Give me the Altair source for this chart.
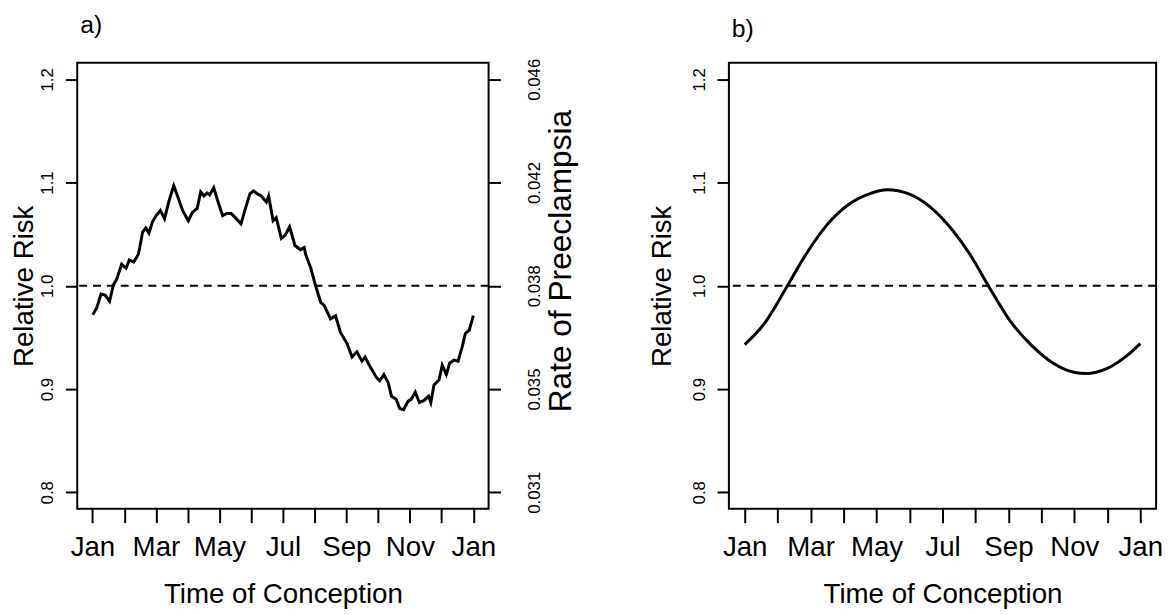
import altair as alt
import pandas as pd

FONT = "Liberation Sans"

# ---- data ----
a_month = [0.01, 0.14, 0.27, 0.40, 0.54, 0.66, 0.76, 0.92, 1.06, 1.16, 1.30, 1.44, 1.49, 1.58, 1.68,
           1.78, 1.89, 2.01, 2.14, 2.27, 2.41, 2.56, 2.68, 2.84, 3.02, 3.15, 3.30, 3.41, 3.51, 3.61,
           3.69, 3.82, 3.96, 4.10, 4.23, 4.37, 4.50, 4.68, 4.81, 4.96, 5.07, 5.20, 5.32, 5.48, 5.55,
           5.69, 5.79, 5.95, 6.07, 6.21, 6.38, 6.55, 6.67, 6.72, 6.88, 7.03, 7.19, 7.30, 7.50, 7.66,
           7.81, 8.02, 8.18, 8.33, 8.49, 8.59, 8.74, 8.95, 9.05, 9.18, 9.32, 9.42, 9.57, 9.68, 9.80,
           9.94, 10.04, 10.17, 10.30, 10.45, 10.59, 10.66, 10.76, 10.92, 11.02, 11.15, 11.25, 11.39,
           11.52, 11.65, 11.75, 11.87, 12.0]
a_rr = [0.972, 0.979, 0.992, 0.991, 0.985, 1.001, 1.006, 1.021, 1.017, 1.025, 1.023, 1.030, 1.037, 1.052, 1.056,
        1.051, 1.062, 1.068, 1.073, 1.065, 1.082, 1.097, 1.087, 1.073, 1.063, 1.071, 1.075, 1.091, 1.087, 1.090,
        1.088, 1.095, 1.081, 1.068, 1.070, 1.070, 1.066, 1.060, 1.074, 1.089, 1.092, 1.089, 1.087, 1.081, 1.087,
        1.063, 1.066, 1.046, 1.049, 1.057, 1.039, 1.035, 1.037, 1.030, 1.017, 1.000, 0.984, 0.981, 0.968, 0.971,
        0.955, 0.944, 0.931, 0.936, 0.927, 0.931, 0.922, 0.911, 0.908, 0.914, 0.906, 0.893, 0.890, 0.881, 0.880,
        0.888, 0.890, 0.897, 0.887, 0.889, 0.893, 0.887, 0.904, 0.909, 0.923, 0.914, 0.925, 0.928,
        0.927, 0.941, 0.954, 0.957, 0.971]

b_month = [0.0, 0.61, 1.26, 1.81, 2.47, 3.12, 3.78, 4.33, 4.98, 5.64, 6.30, 6.84, 7.39, 8.05,
           8.71, 9.36, 10.02, 10.35, 11.0, 11.66, 12.0]
b_rr = [0.943, 0.964, 0.998, 1.028, 1.058, 1.078, 1.089, 1.093, 1.089, 1.076, 1.054, 1.030, 1.000, 0.966,
        0.942, 0.925, 0.916, 0.915, 0.920, 0.934, 0.944]

tick_months = list(range(13))
month_labels = ["Jan", "Feb", "Mar", "Apr", "May", "Jun", "Jul", "Aug", "Sep", "Oct", "Nov", "Dec", "Jan"]
rr_ticks = [0.8, 0.9, 1.0, 1.1, 1.2]
rate_labels = ["0.031", "0.035", "0.038", "0.042", "0.046"]
ref_level = [1.0]

x_dom = [-0.48, 12.48]
y_dom = [0.784, 1.216]

month_js = "[" + ",".join("'" + m + "'" for m in month_labels) + "]"
rate_js = "[" + ",".join("'" + r + "'" for r in rate_labels) + "]"


def x_axis():
    return alt.Axis(values=tick_months,
                    labelExpr="(datum.value % 2 == 0) ? " + month_js + "[datum.value] : ''",
                    tickSize=14, tickWidth=2, tickColor="black", domain=False, grid=False,
                    labelFont=FONT, labelFontSize=28, labelColor="black", labelPadding=11,
                    labelFlush=False, labelOverlap=False,
                    title="Time of Conception", titleFont=FONT, titleFontSize=28,
                    titleFontWeight="normal", titleColor="black", titlePadding=20)


def y_axis_left(title_pad):
    return alt.Axis(values=rr_ticks, format=".1f", orient="left",
                    tickSize=12, tickWidth=2, tickColor="black", domain=False, grid=False,
                    labelAngle=270, labelAlign="center", labelBaseline="bottom",
                    labelFont=FONT, labelFontSize=17, labelColor="black", labelPadding=9,
                    title="Relative Risk", titleFont=FONT, titleFontSize=28,
                    titleFontWeight="normal", titleColor="black", titlePadding=title_pad)


def y_axis_right():
    return alt.Axis(values=rr_ticks, orient="right",
                    labelExpr=rate_js + "[round((datum.value - 0.8) * 10)]",
                    tickSize=12, tickWidth=2, tickColor="black", domain=False, grid=False,
                    labelAngle=270, labelAlign="center", labelBaseline="top",
                    labelFont=FONT, labelFontSize=17, labelColor="black", labelPadding=26,
                    title="Rate of Preeclampsia", titleFont=FONT, titleFontSize=32,
                    titleAngle=270, titleBaseline="top", titleAlign="center", titleY=200,
                    titleFontWeight="normal", titleColor="black", titlePadding=4)


def panel(month, rr, label, right_axis, width, height, interp, title_pad):
    df = pd.DataFrame({"month": month, "rr": rr})
    ref = pd.DataFrame({"level": ref_level})
    yscale = alt.Scale(domain=y_dom, nice=False, zero=False)
    line = alt.Chart(df).mark_line(color="black", strokeWidth=3, interpolate=interp).encode(
        x=alt.X("month:Q", scale=alt.Scale(domain=x_dom, nice=False, zero=False), axis=x_axis()),
        y=alt.Y("rr:Q", scale=yscale, axis=y_axis_left(title_pad)),
    )
    rule = alt.Chart(ref).mark_rule(color="black", strokeWidth=2, strokeDash=[8, 6]).encode(
        y=alt.Y("level:Q", scale=yscale,
                axis=y_axis_right() if right_axis else y_axis_left(title_pad)),
    )
    layer = alt.layer(line, rule)
    if right_axis:
        layer = layer.resolve_scale(y="independent")
    return layer.properties(
        width=width, height=height,
        title=alt.TitleParams(label, anchor="start", frame="group", font=FONT, fontSize=25,
                              fontWeight="normal", color="black", offset=21, dx=3),
    )


pa = panel(a_month, a_rr, "a)", True, 416, 451, "linear", 0)
pb = panel(b_month, b_rr, "b)", False, 432, 451, "monotone", 14)

chart = alt.hconcat(pa, pb, spacing=71).properties(
    padding={"left": 2, "top": 0, "right": 0, "bottom": 0}
).configure(background="white").configure_view(stroke="black", strokeWidth=2)

chart.save("out.html", embed_options={"renderer": "svg", "actions": False})
